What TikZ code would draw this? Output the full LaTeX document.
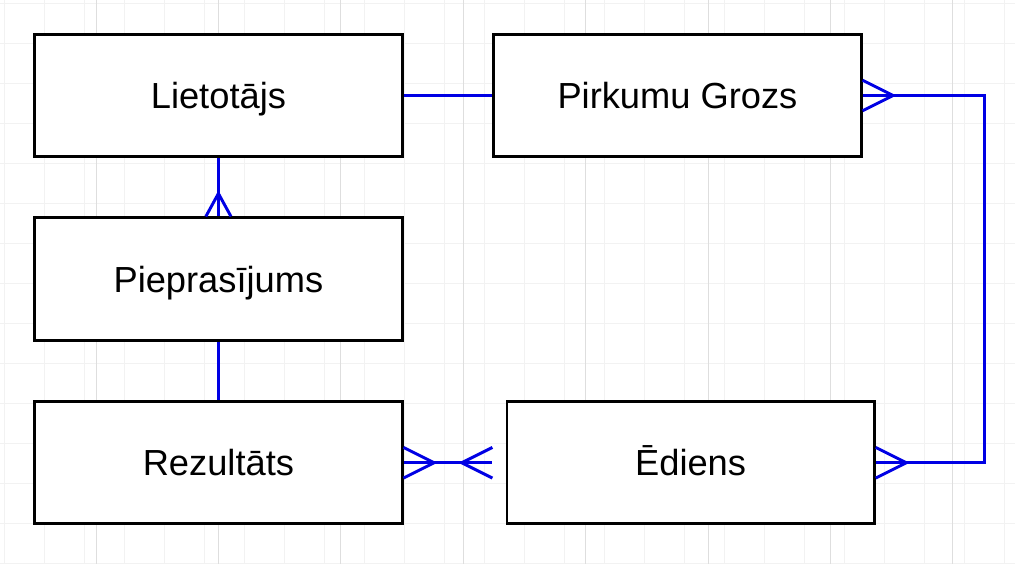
\documentclass[tikz,border=0pt]{standalone}
\usepackage{fontspec}
\setmainfont{Liberation Sans}
\usepackage{tikz}
\usetikzlibrary{calc}
\usetikzlibrary{positioning}
\definecolor{relblue}{RGB}{0,0,228}
\definecolor{gridminor}{RGB}{242,242,242}
\definecolor{gridmajor}{RGB}{222,222,222}

\begin{document}
\begin{tikzpicture}[x=0.765cm,y=-0.765cm,
		entity/.style={draw=black, line width=2.1pt, fill=white, minimum width=9.18cm, minimum height=3.06cm, inner sep=0pt, text height=18.5pt, text depth=0pt, font=\fontsize{25.8}{31}\selectfont},
		rel/.style={relblue, line width=2.1pt}]
					
					\useasboundingbox (-0.137,-0.121) rectangle (33.03,18.28);
					\begin{scope}
						\clip (-0.137,-0.121) rectangle (33.03,18.28);
						\draw[gridminor, line width=0.6pt] (-1,-1) grid (34,19);
						\draw[gridmajor, line width=0.6pt, xstep=4, ystep=4, shift={(-1,-1)}] (0,0) grid (35,20);
					\end{scope}
					
					\node[entity] (liet) at (7,3) {Lietotājs};
					\node[entity] (groz) at (22,3) {Pirkumu Grozs};
					\node[entity] (piep) at (7,9) {Pieprasījums};
					\node[entity] (rez) at (7,15) {Rezultāts};
					\node[entity] (edien) at (22.43,15) {Ēdiens};
					
					% savienojumi
					\draw[rel] (liet.east) -- (groz.west);
					\draw[rel] (liet.south) -- (piep.north);
					\draw[rel] (piep.south) -- (rez.north);
					\draw[rel] (groz.east) -- ++(4,0) |- (edien.east);
					\draw[rel, shorten >=0.33cm] (rez.east) -- (edien.west);
					
					% daudzi
					\draw[rel] ($(groz.east)+(0,-0.5)$) -- ($(groz.east)+(1,0)$) -- ($(groz.east)+(0,0.5)$);
					\draw[rel] ($(edien.east)+(0,-0.5)$) -- ($(edien.east)+(1,0)$) -- ($(edien.east)+(0,0.5)$);
					\draw[rel] ($(rez.east)+(0,-0.5)$) -- ($(rez.east)+(1,0)$) -- ($(rez.east)+(0,0.5)$);
					\draw[rel] ($(edien.west)+(-0.43,-0.5)$) -- ($(edien.west)+(-1.43,0)$) -- ($(edien.west)+(-0.43,0.5)$);
					\draw[rel] ($(piep.north)+(-0.41,0)$) -- ($(piep.north)+(0,-0.75)$) -- ($(piep.north)+(0.41,0)$);
			\end{tikzpicture}
\end{document}
